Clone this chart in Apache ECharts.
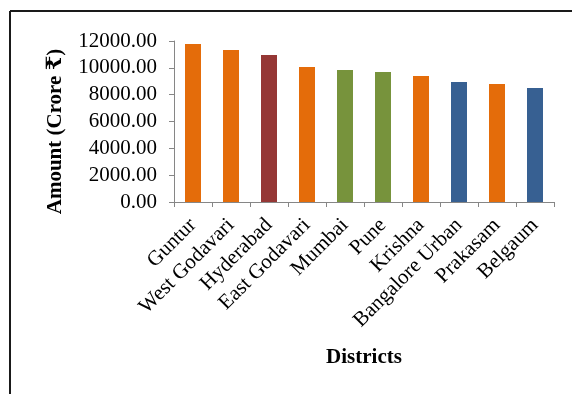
<!DOCTYPE html>
<html>
<head>
<meta charset="utf-8">
<script src="https://cdn.jsdelivr.net/npm/echarts@6/dist/echarts.min.js"></script>
<style>
  html, body { margin: 0; padding: 0; background: #fff; }
  #chart { width: 572px; height: 394px; }
</style>
</head>
<body>
<div id="chart"></div>
<script>
// Top districts by amount (Crore ₹)
const categories = ['Guntur', 'West Godavari', 'Hyderabad', 'East Godavari', 'Mumbai', 'Pune', 'Krishna', 'Bangalore Urban', 'Prakasam', 'Belgaum'];
const amounts = [11780, 11330, 10950, 10060, 9830, 9690, 9390, 8940, 8790, 8490];
// bar fill per district (grouped by state)
const barColors = ['#E46C0A', '#E46C0A', '#953735', '#E46C0A', '#77933C', '#77933C', '#E46C0A', '#376092', '#E46C0A', '#376092'];
const yTicks = { min: 0, max: 12000, interval: 2000 };

const FONT = "'Liberation Serif', 'Times New Roman', 'DejaVu Serif', serif";
const AXIS_GRAY = '#868686';

const chart = echarts.init(document.getElementById('chart'), null, { renderer: 'canvas' });

chart.setOption({
  animation: false,
  backgroundColor: '#ffffff',
  grid: { left: 174, top: 41, right: 18, bottom: 192, containLabel: false },
  xAxis: {
    type: 'category',
    data: categories,
    boundaryGap: true,
    name: 'Districts',
    nameLocation: 'middle',
    nameGap: 145,
    nameTextStyle: { fontFamily: FONT, fontSize: 21, fontWeight: 'bold', color: '#000' },
    axisLine: { show: true, lineStyle: { color: AXIS_GRAY, width: 1 } },
    axisTick: { show: true, alignWithLabel: false, length: 5, lineStyle: { color: AXIS_GRAY } },
    axisLabel: { rotate: 45, interval: 0, margin: 20, fontFamily: FONT, fontSize: 21, color: '#000' },
    splitLine: { show: false }
  },
  yAxis: {
    type: 'value',
    min: yTicks.min,
    max: yTicks.max,
    interval: yTicks.interval,
    name: 'Amount (Crore ₹)',
    nameLocation: 'middle',
    nameRotate: 90,
    nameGap: 108,
    nameTextStyle: { fontFamily: FONT, fontSize: 21, fontWeight: 'bold', color: '#000', padding: [0, 20, 0, 0] },
    axisLine: { show: true, lineStyle: { color: AXIS_GRAY, width: 1 } },
    axisTick: { show: true, length: 5, lineStyle: { color: AXIS_GRAY } },
    axisLabel: { margin: 17, fontFamily: FONT, fontSize: 21, color: '#000', formatter: v => v.toFixed(2) },
    splitLine: { show: false }
  },
  series: [{
    type: 'bar',
    barWidth: 16,
    data: amounts.map((v, i) => ({ value: v, itemStyle: { color: barColors[i] } }))
  }],
  graphic: [
    // chart frame edges
    { type: 'line', shape: { x1: 10, y1: 11, x2: 572, y2: 11 }, style: { stroke: '#1a1a1a', lineWidth: 2 } },
    { type: 'line', shape: { x1: 10, y1: 11, x2: 10, y2: 394 }, style: { stroke: '#1a1a1a', lineWidth: 2 } }
  ]
});
</script>
</body>
</html>
